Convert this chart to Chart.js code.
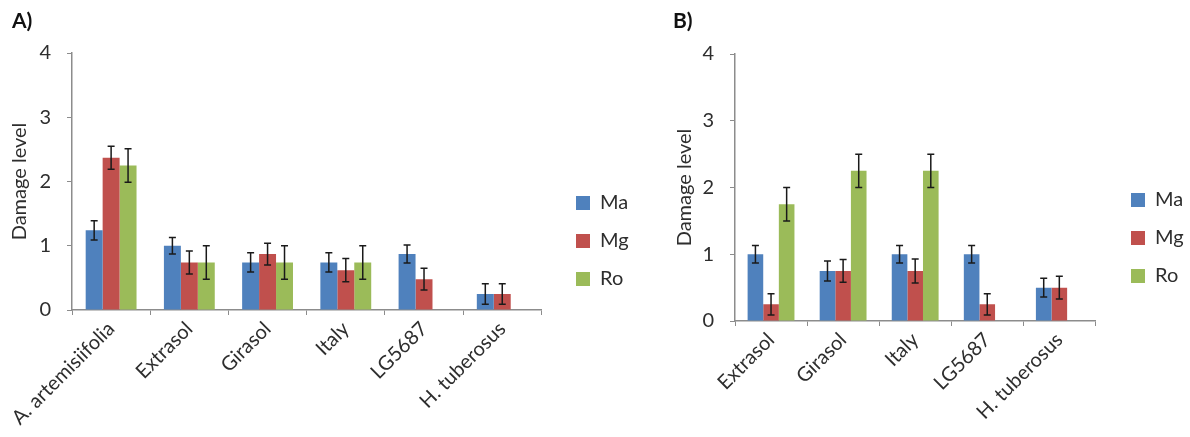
<!DOCTYPE html>
<html>
<head>
<meta charset="utf-8">
<script src="https://cdn.jsdelivr.net/npm/chart.js@4.4.1/dist/chart.umd.min.js"></script>
<style>
  html, body { margin: 0; padding: 0; background: #fff; }
  #wrapA { position: absolute; left: 0; top: 0; width: 650px; height: 437px; }
  #wrapB { position: absolute; left: 655px; top: 0; width: 535px; height: 437px; }
</style>
</head>
<body>
<div id="wrapA"><canvas id="chartA"></canvas></div>
<div id="wrapB"><canvas id="chartB"></canvas></div>
<script>
// panel A
const catsA = ['A. artemisiifolia', 'Extrasol', 'Girasol', 'Italy', 'LG5687', 'H. tuberosus'];
const maA = [1.24, 1.0, 0.74, 0.74, 0.87, 0.25];
const mgA = [2.37, 0.74, 0.87, 0.62, 0.48, 0.25];
const roA = [2.25, 0.74, 0.74, 0.74, null, null];
const maErrA = [0.15, 0.13, 0.15, 0.15, 0.14, 0.16];
const mgErrA = [0.18, 0.18, 0.17, 0.18, 0.17, 0.16];
const roErrA = [0.26, 0.26, 0.26, 0.26, null, null];

// panel B
const catsB = ['Extrasol', 'Girasol', 'Italy', 'LG5687', 'H. tuberosus'];
const maB = [1.0, 0.75, 1.0, 1.0, 0.5];
const mgB = [0.25, 0.75, 0.75, 0.25, 0.5];
const roB = [1.75, 2.25, 2.25, null, null];
const maErrB = [0.13, 0.15, 0.13, 0.13, 0.14];
const mgErrB = [0.16, 0.17, 0.18, 0.16, 0.17];
const roErrB = [0.25, 0.25, 0.25, null, null];

const yTicks = [0, 1, 2, 3, 4];
const seriesNames = ['Ma', 'Mg', 'Ro'];
const seriesColors = ['#4f81bd', '#c0504d', '#9bbb59'];

const axisColor = '#8c8c8c';
const textColor = '#2e2e2e';

// error bars, drawn from the y scale
const errorBars = {
  id: 'errorBars',
  afterDatasetsDraw(chart) {
    const ctx = chart.ctx;
    const y = chart.scales.y;
    ctx.save();
    ctx.strokeStyle = '#1a1a1a';
    ctx.lineWidth = 1.5;
    chart.data.datasets.forEach((ds, i) => {
      const meta = chart.getDatasetMeta(i);
      meta.data.forEach((bar, j) => {
        const v = ds.data[j], e = ds.errors[j];
        if (v == null || e == null) return;
        const x = bar.x;
        const top = y.getPixelForValue(v + e);
        const bot = y.getPixelForValue(v - e);
        ctx.beginPath();
        ctx.moveTo(x, top); ctx.lineTo(x, bot);
        ctx.moveTo(x - 3.5, top); ctx.lineTo(x + 3.5, top);
        ctx.moveTo(x - 3.5, bot); ctx.lineTo(x + 3.5, bot);
        ctx.stroke();
      });
    });
    ctx.restore();
  }
};

// panel letter + legend placement
const panelExtras = {
  id: 'panelExtras',
  afterLayout(chart, args, opts) {
    const lg = chart.legend;
    const w = lg.width, h = lg.height;
    lg.left = opts.legendX; lg.right = opts.legendX + w;
    lg.top = opts.legendY; lg.bottom = opts.legendY + h;
  },
  afterDraw(chart, args, opts) {
    const ctx = chart.ctx;
    ctx.save();
    ctx.font = 'bold 21px Lato';
    ctx.fillStyle = '#111';
    ctx.textBaseline = 'middle';
    ctx.fillText(opts.letter, opts.letterX, 21);
    ctx.restore();
  }
};

function makeChart(id, cats, vals, errs, cfg) {
  new Chart(document.getElementById(id), {
    type: 'bar',
    data: {
      labels: cats,
      datasets: seriesNames.map((n, i) => ({
        label: n,
        data: vals[i],
        errors: errs[i],
        backgroundColor: seriesColors[i],
        borderWidth: 0,
        categoryPercentage: 0.65,
        barPercentage: 1.0
      }))
    },
    options: {
      responsive: true,
      maintainAspectRatio: false,
      animation: false,
      layout: { padding: { left: cfg.padLeft, top: cfg.padTop, right: cfg.padRight, bottom: 0 } },
      scales: {
        x: {
          grid: { drawOnChartArea: false, color: axisColor, tickLength: 5, offset: true },
          border: { color: axisColor, width: 1.5 },
          ticks: { color: textColor, font: { size: 20 }, minRotation: 45, maxRotation: 45, padding: 2 },
          afterFit: s => { s.height = cfg.xHeight; s.paddingLeft = 0; s.paddingRight = 0; }
        },
        y: {
          min: 0, max: 4,
          afterBuildTicks: s => { s.ticks = yTicks.map(v => ({ value: v })); },
          grid: { drawOnChartArea: false, color: axisColor, tickLength: 5 },
          border: { color: axisColor, width: 1.5 },
          ticks: { color: textColor, font: { size: 20 }, padding: 16 },
          title: { display: true, text: 'Damage level', color: textColor, font: { size: 20 }, padding: 0 },
          afterFit: s => { s.width = cfg.yWidth; }
        }
      },
      plugins: {
        legend: {
          position: 'right',
          align: 'start',
          labels: { boxWidth: 14, boxHeight: 14, padding: 18, color: textColor, font: { size: 20 } }
        },
        tooltip: { enabled: false },
        panelExtras: { letter: cfg.letter, letterX: cfg.letterX, legendX: cfg.legendX, legendY: cfg.legendY }
      }
    },
    plugins: [errorBars, panelExtras]
  });
}

function draw() {
  Chart.defaults.font.family = 'Lato';
  makeChart('chartA', catsA, [maA, mgA, roA], [maErrA, mgErrA, roErrA],
    { padLeft: 8, padTop: 53, padRight: 28, yWidth: 64, xHeight: 127, letter: 'A)', letterX: 12, legendX: 558, legendY: 175 });
  makeChart('chartB', catsB, [maB, mgB, roB], [maErrB, mgErrB, roErrB],
    { padLeft: 18, padTop: 54, padRight: 14, yWidth: 62, xHeight: 116, letter: 'B)', letterX: 18, legendX: 458, legendY: 172 });
}

if (document.fonts && document.fonts.load) {
  Promise.all([document.fonts.load('20px Lato'), document.fonts.load('bold 21px Lato')]).then(draw, draw);
} else {
  draw();
}
</script>
</body>
</html>
